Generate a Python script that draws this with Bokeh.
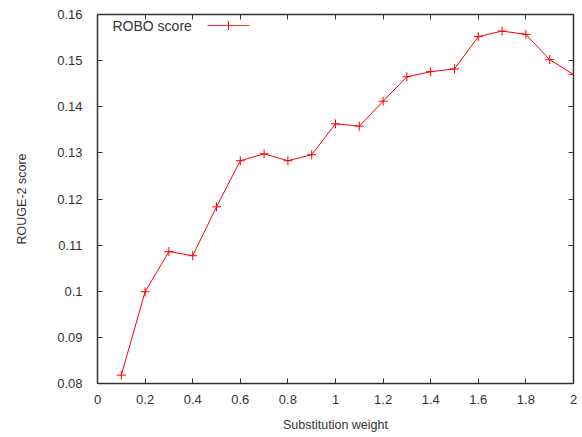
from bokeh.plotting import figure
from bokeh.models import (FixedTicker, LinearAxis, Label, Range1d, BoxAnnotation)
from bokeh.embed import file_html
from bokeh.resources import INLINE

# data
weights = [0.1, 0.2, 0.3, 0.4, 0.5, 0.6, 0.7, 0.8, 0.9, 1.0,
           1.1, 1.2, 1.3, 1.4, 1.5, 1.6, 1.7, 1.8, 1.9, 2.0]
robo_score = [0.0818, 0.0999, 0.1086, 0.1077, 0.1183, 0.1283, 0.1298, 0.1283, 0.1296, 0.1363,
              0.1358, 0.1412, 0.1465, 0.1476, 0.1482, 0.1552, 0.1564, 0.1557, 0.1502, 0.1470]
series_name = "ROBO score"
x_ticks = [0, 0.2, 0.4, 0.6, 0.8, 1.0, 1.2, 1.4, 1.6, 1.8, 2.0]
x_tick_labels = ["0", "0.2", "0.4", "0.6", "0.8", "1", "1.2", "1.4", "1.6", "1.8", "2"]
y_ticks = [0.08, 0.09, 0.10, 0.11, 0.12, 0.13, 0.14, 0.15, 0.16]
y_tick_labels = ["0.08", "0.09", "0.1", "0.11", "0.12", "0.13", "0.14", "0.15", "0.16"]
x_title = "Substitution weight"
y_title = "ROUGE-2 score"

FONT = "Liberation Sans"
TXT = "#333333"
AX = "#333333"
RED = "#ff0000"

p = figure(width=582, height=437, output_backend="svg", toolbar_location=None,
           x_range=Range1d(0, 2), y_range=Range1d(0.08, 0.16),
           min_border_left=97, min_border_right=9, min_border_top=14, min_border_bottom=54,
           x_axis_label=x_title, y_axis_label=y_title)
p.xgrid.visible = False
p.ygrid.visible = False
p.background_fill_color = None
p.border_fill_color = "white"
p.outline_line_color = AX
p.outline_line_width = 1

p.line(weights, robo_score, line_color=RED, line_width=1)
p.scatter(weights, robo_score, marker="cross", size=9, line_color=RED, line_width=1)

xt = FixedTicker(ticks=x_ticks)
yt = FixedTicker(ticks=y_ticks)

for ax in p.xaxis:
    ax.ticker = xt
    ax.major_label_overrides = {t: l for t, l in zip(x_ticks, x_tick_labels)}
    ax.major_label_standoff = 11
    ax.axis_label_standoff = 11
for ax in p.yaxis:
    ax.ticker = yt
    ax.major_label_overrides = {t: l for t, l in zip(y_ticks, y_tick_labels)}
    ax.major_label_standoff = 15
    ax.axis_label_standoff = 25

for ax in p.xaxis + p.yaxis:
    ax.major_tick_in = 5
    ax.major_tick_out = 0
    ax.minor_tick_line_color = None
    ax.axis_line_color = AX
    ax.axis_line_width = 1.5
    ax.major_tick_line_color = AX
    ax.major_label_text_font = FONT
    ax.major_label_text_font_size = "13px"
    ax.major_label_text_color = TXT
    ax.axis_label_text_font = FONT
    ax.axis_label_text_font_size = "12.5px"
    ax.axis_label_text_font_style = "normal"
    ax.axis_label_text_color = TXT

# mirrored tick marks on top and right, without labels
top = LinearAxis(ticker=xt, major_label_overrides={t: "" for t in x_ticks},
                 major_label_standoff=0, major_label_text_font_size="8px",
                 major_tick_in=5, major_tick_out=0, minor_tick_line_color=None,
                 axis_line_color=AX, axis_line_width=1.5, major_tick_line_color=AX)
right = LinearAxis(ticker=yt, major_label_overrides={t: "" for t in y_ticks},
                   major_label_standoff=0, major_label_text_font_size="8px",
                   major_tick_in=5, major_tick_out=0, minor_tick_line_color=None,
                   axis_line_color=AX, axis_line_width=1.5, major_tick_line_color=AX)
p.add_layout(top, "above")
p.add_layout(right, "right")

# key (gnuplot style: title, then sample line with a cross)
p.add_layout(Label(x=15, y=358, x_units="screen", y_units="screen", text=series_name,
                   text_font=FONT, text_font_size="14px", text_color=TXT,
                   text_baseline="middle", text_align="left"))
p.add_layout(BoxAnnotation(left=110, right=152, bottom=357.5, top=358.5,
                           left_units="screen", right_units="screen",
                           bottom_units="screen", top_units="screen",
                           fill_color=RED, fill_alpha=0.8, line_color=None))
p.add_layout(BoxAnnotation(left=130.5, right=131.5, bottom=353.5, top=362.5,
                           left_units="screen", right_units="screen",
                           bottom_units="screen", top_units="screen",
                           fill_color=RED, fill_alpha=1.0, line_color=None))

open("out.html", "w").write(file_html(p, INLINE))
